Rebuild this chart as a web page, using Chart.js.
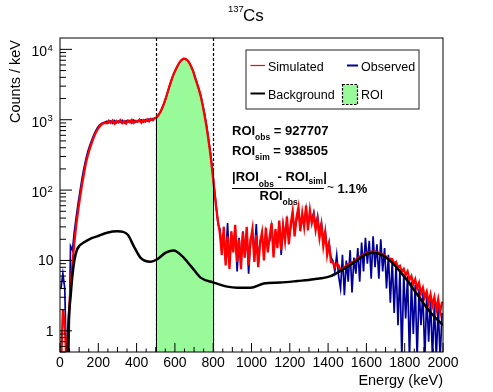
<!DOCTYPE html>
<html>
<head>
<meta charset="utf-8">
<script src="https://cdn.jsdelivr.net/npm/chart.js@4.4.1/dist/chart.umd.min.js"></script>
<style>
html, body { margin: 0; padding: 0; background: #fff; }
#wrap { width: 493px; height: 392px; }
</style>
</head>
<body>
<div id="wrap"><canvas id="spectrum" width="493" height="392"></canvas></div>
<script>
// 137Cs spectrum, simulated vs observed, 10 keV bins from 0 to 2000 keV
const binWidth = 10;

const simCounts = [
  0.3, 2, 1.2, 0.3, 1.5, 4, 9, 18, 32, 52, 80, 120, 170, 240, 310, 385, 460, 550, 640, 720, 790, 850, 885, 905,
  890, 965, 905, 975, 880, 960, 915, 985, 895, 950, 880, 975, 920, 990, 900, 960, 935, 1000, 905, 985, 940, 1010, 950, 1030, 985, 1060,
  1080, 1170, 1300, 1490, 1760, 2120, 2620, 3200, 3880, 4550, 5200, 5900, 6600, 7080, 7350, 7300, 7020, 6450, 5700, 4900,
  4000, 3300, 2700, 2150, 1600, 1150, 800, 520, 330, 190,
  105, 58, 36, 24,
  12, 30, 8.5, 22, 7.6, 26, 13, 32, 9.5, 20, 7.5, 25, 11, 30, 8.5, 19, 28, 9.5, 23, 8, 18,
  25, 10, 29, 13, 22, 34, 11, 28, 15, 37, 14, 31, 19, 42, 17,
  33, 50, 22, 41, 57, 26, 47, 30, 60, 27, 52, 34,
  45, 27, 39, 21, 32, 16, 25, 12, 17, 9.5,
  9.5, 8, 9, 8.5,
  7.3, 7.6, 8.1, 8.3, 8.9, 8.9, 9.5, 9.6, 10.3, 10.6, 11.4, 11.6, 12.3, 12.3, 12.9, 12.9, 13.4, 13.2, 13.4, 12.9,
  12.9, 12.4, 12.3, 11.6, 11.3, 10.6,
  10.6, 10.4, 9.0, 9.5, 7.9, 8.4, 6.9, 7.6, 6.2, 7.0, 5.3, 6.0, 4.6, 5.4, 4.0, 4.8, 3.4, 4.1, 3.0, 3.6,
  2.5, 3.3, 2.3, 3.0, 2.0, 2.8, 1.8, 2.6
];

const obsCounts = [
  4, 6.5, 4, 0.2, 0.3, 16, 14, 26, 42, 66, 98, 145, 205, 275, 350, 425, 505, 595, 685, 765, 830, 875, 905, 925,
  950, 900, 960, 890, 970, 905, 955, 920, 980, 900, 965, 930, 975, 895, 985, 925, 970, 950, 995, 930, 1000, 960, 1020, 990, 1040, 1050,
  1075, 1185, 1290, 1510, 1750, 2140, 2600, 3230, 3850, 4580, 5180, 5930, 6570, 7100, 7330, 7320, 7000, 6480, 5680, 4950,
  4050, 3350, 2750, 2200, 1650, 1200, 840, 550, 350, 205,
  110, 62, 33, 28,
  15, 24, 10, 34, 9, 22, 16, 27, 7, 21, 9, 26, 11, 25, 6.5, 20, 23, 12, 33, 9, 19,
  22, 13, 25, 16, 19, 30, 14, 24, 18, 33, 12, 32, 22, 36, 20,
  30, 44, 26, 37, 52, 30, 42, 34, 54, 31, 47, 38,
  48, 31, 42, 25, 34, 20, 26, 14, 18, 11,
  10, 7, 12, 6,
  4, 12, 3.2, 10, 5, 14, 3.5, 11, 6.5, 15,
  5, 18, 7, 21, 9, 19, 5.5, 22, 8, 17,
  5.5, 20, 7, 15, 4, 12, 2.5, 10, 1.8, 9,
  1.2, 7.5, 0.4, 6.5, 1.5, 6, 0.4, 5, 0.9, 4.5,
  0.4, 4, 1.2, 3.5, 0.4, 3.2, 0.7, 2.8, 0.4, 2.5,
  0.4, 2.2, 0.4, 1.8
];

// smooth background model
const bgEnergy = [40, 46, 55, 64, 75, 88, 100, 124, 160, 194, 246, 300, 330, 355, 385, 420, 473, 508, 552, 594, 638, 690, 734,
  803, 873, 925, 995, 1064, 1151, 1239, 1325, 1413, 1465, 1534, 1587, 1630, 1674, 1726, 1795, 1865, 1935, 2000];
const bgCounts = [0.5, 1.5, 3.0, 5.8, 10, 14, 16, 18, 20.5, 22, 24.8, 26, 25.5, 23, 16, 11, 9.6, 10.4, 12.9, 13.9, 11.5, 7.9, 5.7,
  4.85, 4.25, 4.1, 4.1, 4.7, 4.85, 5.1, 5.4, 6.0, 7.1, 9.3, 11.8, 12.9, 12.2, 9.8, 6.0, 3.3, 1.82, 1.2];

const roiRange = [500, 800];
const roiObs = 927707;
const roiSim = 938505;
const roiDiff = '1.1%';
const xTickLabels = [0, 200, 400, 600, 800, 1000, 1200, 1400, 1600, 1800, 2000];
const yDecades = [1, 10, 100, 1000, 10000];

const FONT = '"Liberation Sans", Arial, Helvetica, sans-serif';

const binCenters = simCounts.map((_, i) => i * binWidth + binWidth / 2);
const toXY = (xs, ys) => xs.map((x, i) => ({ x: x, y: ys[i] }));

// ROI = observed histogram cut to [500, 800], closed at the edges
const roiPoints = toXY(binCenters, obsCounts).filter(p => p.x > roiRange[0] && p.x < roiRange[1]);
roiPoints.unshift({ x: roiRange[0], y: roiPoints[0].y });
roiPoints.push({ x: roiRange[1], y: roiPoints[roiPoints.length - 1].y });

function seg(ctx, x1, y1, x2, y2) {
    ctx.beginPath(); ctx.moveTo(x1, y1); ctx.lineTo(x2, y2); ctx.stroke();
}

// draws text pieces one after another: [text, size, bold, dy]
function runs(ctx, x, y, parts) {
    parts.forEach(p => {
        ctx.font = (p[2] ? 'bold ' : '') + p[1] + 'px ' + FONT;
        ctx.fillText(p[0], x, y + (p[3] || 0));
        x += ctx.measureText(p[0]).width;
    });
    return x;
}

const roiLines = {
    id: 'roiLines',
    beforeDatasetsDraw(chart) {
        const ctx = chart.ctx, a = chart.chartArea, xs = chart.scales.x;
        ctx.save();
        ctx.strokeStyle = '#000';
        ctx.lineWidth = 1.2;
        ctx.setLineDash([3, 2]);
        roiRange.forEach(e => {
            const px = Math.round(xs.getPixelForValue(e)) + 0.5;
            seg(ctx, px, a.top, px, a.bottom);
        });
        ctx.restore();
    },
    afterDatasetsDraw(chart) {
        const ctx = chart.ctx, a = chart.chartArea, xs = chart.scales.x, ys = chart.scales.y;
        ctx.save();
        ctx.strokeStyle = '#000';
        ctx.lineWidth = 1;
        [roiPoints[0], roiPoints[roiPoints.length - 1]].forEach(p => {
            const px = Math.round(xs.getPixelForValue(p.x)) + 0.5;
            seg(ctx, px, a.bottom, px, ys.getPixelForValue(p.y));
        });
        ctx.restore();
    }
};

const rootStyle = {
    id: 'rootStyle',
    afterDraw(chart) {
        const ctx = chart.ctx, a = chart.chartArea, xs = chart.scales.x, ys = chart.scales.y;
        ctx.save();

        // frame + ticks (inside)
        ctx.strokeStyle = '#000';
        ctx.lineWidth = 1;
        ctx.strokeRect(a.left, a.top, a.right - a.left, a.bottom - a.top);
        const xMax = xTickLabels[xTickLabels.length - 1];
        for (let v = 0; v <= xMax; v += 50) {
            const len = v % 200 === 0 ? 9 : (v % 100 === 0 ? 5 : 3.5);
            const px = xs.getPixelForValue(v);
            seg(ctx, px, a.bottom, px, a.bottom - len);
        }
        for (let d = 0.1; d <= 10000; d *= 10) {
            for (let m = 1; m <= 9; m++) {
                const v = m * d;
                if (v < ys.min || v > ys.max) continue;
                const py = ys.getPixelForValue(v);
                seg(ctx, a.left, py, a.left + (m === 1 ? 12 : 6), py);
            }
        }

        // tick labels
        ctx.fillStyle = '#000';
        ctx.textAlign = 'center';
        ctx.textBaseline = 'alphabetic';
        ctx.font = '14px ' + FONT;
        xTickLabels.forEach(v => ctx.fillText(String(v), xs.getPixelForValue(v), a.bottom + 15));
        yDecades.forEach(v => {
            const py = ys.getPixelForValue(v);
            if (v >= 100) {
                ctx.textAlign = 'right';
                ctx.font = '14px ' + FONT;
                ctx.fillText('10', 47, py + 7);
                ctx.textAlign = 'left';
                ctx.font = '9.5px ' + FONT;
                ctx.fillText(String(Math.round(Math.log10(v))), 47.5, py + 1.5);
            } else {
                ctx.textAlign = 'right';
                ctx.font = '14px ' + FONT;
                ctx.fillText(String(v), 53.5, py + 5);
            }
        });

        // axis titles
        ctx.font = '14.5px ' + FONT;
        ctx.textAlign = 'right';
        ctx.fillText('Energy (keV)', a.right, 385);
        ctx.save();
        ctx.translate(19.5, 40);
        ctx.rotate(-Math.PI / 2);
        ctx.fillText('Counts / keV', 0, 0);
        ctx.restore();

        // title
        ctx.textAlign = 'left';
        ctx.font = '9.5px ' + FONT;
        ctx.fillText('137', 228, 11.5);
        ctx.font = '17px ' + FONT;
        ctx.fillText('Cs', 243, 20.5);

        // legend
        const ds = {};
        chart.data.datasets.forEach(d => { ds[d.label] = d; });
        ctx.lineWidth = 1;
        ctx.strokeStyle = '#222';
        ctx.strokeRect(246, 50, 173, 59);
        const legendLine = (label, x1, x2, y, tx) => {
            const d = ds[label];
            ctx.strokeStyle = d.borderColor;
            ctx.lineWidth = label === 'Simulated' ? 1.2 : 2;
            seg(ctx, x1, y, x2, y);
            ctx.font = '12.5px ' + FONT;
            ctx.fillText(label, tx, y + 5);
        };
        legendLine('Simulated', 250.5, 265, 65.5, 268);
        legendLine('Observed', 347, 358, 65.5, 361);
        legendLine('Background', 250.5, 265, 93.5, 268);
        ctx.fillStyle = ds.ROI.backgroundColor;
        ctx.fillRect(342.5, 84.5, 15, 20);
        ctx.strokeStyle = '#000';
        ctx.lineWidth = 1.2;
        ctx.setLineDash([2.5, 1.5]);
        ctx.strokeRect(342.5, 84.5, 15, 20);
        ctx.setLineDash([]);
        ctx.fillStyle = '#000';
        ctx.font = '12.5px ' + FONT;
        ctx.fillText('ROI', 361, 99);

        // ROI integrals
        runs(ctx, 232, 135, [['ROI', 13, true], ['obs', 8.5, true, 4.5], [' = ' + roiObs, 13, true]]);
        runs(ctx, 232, 155, [['ROI', 13, true], ['sim', 8.5, true, 4.5], [' = ' + roiSim, 13, true]]);
        const numEnd = runs(ctx, 232, 181, [['|ROI', 13, true], ['obs', 8.5, true, 6], [' - ROI', 13, true], ['sim', 8.5, true, 3], ['|', 13, true]]);
        ctx.lineWidth = 1;
        ctx.strokeStyle = '#000';
        seg(ctx, 232, 188.5, numEnd - 3, 188.5);
        runs(ctx, 259.5, 200, [['ROI', 13, true], ['obs', 8.5, true, 5]]);
        runs(ctx, 327, 193, [['~', 12, false, -2], [' ' + roiDiff, 13, true]]);

        ctx.restore();
    }
};

new Chart(document.getElementById('spectrum'), {
    type: 'line',
    data: {
        datasets: [{
            label: 'Background',
            data: toXY(bgEnergy, bgCounts),
            borderColor: '#000000',
            borderWidth: 2.5,
            pointRadius: 0,
            cubicInterpolationMode: 'monotone',
            fill: false,
            clip: 0,
            order: 0
        }, {
            label: 'Simulated',
            data: toXY(binCenters, simCounts),
            borderColor: '#ff0000',
            borderWidth: 2.3,
            pointRadius: 0,
            tension: 0,
            fill: false,
            clip: 0,
            order: 1
        }, {
            label: 'Observed',
            data: toXY(binCenters, obsCounts),
            borderColor: '#000099',
            borderWidth: 1.7,
            pointRadius: 0,
            tension: 0,
            fill: false,
            clip: 0,
            order: 2
        }, {
            label: 'ROI',
            data: roiPoints,
            borderColor: '#000000',
            backgroundColor: '#99fa99',
            borderWidth: 1,
            pointRadius: 0,
            tension: 0,
            fill: 'start',
            clip: 0,
            order: 3
        }]
    },
    options: {
        responsive: false,
        animation: false,
        events: [],
        layout: { padding: { left: 60, right: 50, top: 38, bottom: 40 } },
        plugins: { legend: { display: false }, tooltip: { enabled: false } },
        scales: {
            x: { type: 'linear', min: 0, max: 2000, display: false },
            y: { type: 'logarithmic', min: 0.5, max: 14500, display: false }
        }
    },
    plugins: [roiLines, rootStyle]
});
</script>
</body>
</html>
